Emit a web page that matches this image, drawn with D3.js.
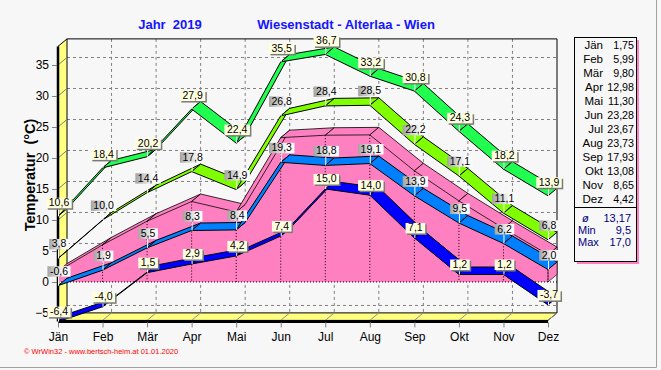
<!DOCTYPE html>
<html>
<head>
<meta charset="utf-8">
<script src="https://cdn.jsdelivr.net/npm/d3@7"></script>
<style>
  body { margin: 0; background: #f7f7f7; }
  svg { display: block; font-family: "Liberation Sans", Arial, sans-serif; }
</style>
</head>
<body>
<svg id="chart" width="661" height="370"></svg>
<script>
// --- Data ---
const months = ["Jän", "Feb", "Mär", "Apr", "Mai", "Jun", "Jul", "Aug", "Sep", "Okt", "Nov", "Dez"];
const absMax = [10.6, 18.4, 20.2, 27.9, 22.4, 35.5, 36.7, 33.2, 30.8, 24.3, 18.2, 13.9];
const avgMax = [3.8, 10.0, 14.4, 17.8, 14.9, 26.8, 28.4, 28.5, 22.2, 17.1, 11.1, 6.8];
const meanTemp = [1.75, 5.99, 9.80, 12.98, 11.30, 23.28, 23.67, 23.73, 17.93, 13.08, 8.65, 4.42];
const avgMin = [-0.6, 1.9, 5.5, 8.3, 8.4, 19.3, 18.8, 19.1, 13.9, 9.5, 6.2, 2.0];
const absMin = [-6.4, -4.0, 1.5, 2.9, 4.2, 7.4, 15.0, 14.0, 7.1, 1.2, 1.2, -3.7];
const yTicks = [-5, 0, 5, 10, 15, 20, 25, 30, 35];
const statLabels = ["ø", "Min", "Max"];
const statValues = ["13,17", "9,5", "17,0"];

// --- Layout ---
const svg = d3.select("#chart");
const x = d3.scalePoint().domain(months).range([58, 548]);
const y = d3.scaleLinear().domain([-6.2, 38]).range([320.4, 46.4]);
const DX = 9, DY = -7.5;   // 3D depth offset
const yTop = y.domain()[1], yBot = y.domain()[0];
const fmt = v => v.toFixed(1).replace(".", ",");
const pts = arr => arr.map(p => p.join(",")).join(" ");

const defs = svg.append("defs");
const grad = defs.append("linearGradient").attr("id", "grayLbl");
grad.append("stop").attr("offset", 0).attr("stop-color", "#a4a4a4");
grad.append("stop").attr("offset", 0.7).attr("stop-color", "#fbfbfb");

// panel border (right / bottom)
svg.append("path").attr("d", "M656.5,0 V367.5 H0")
    .attr("fill", "none").attr("stroke", "#a0a0a0");

// Title
svg.append("text").attr("x", 170).attr("y", 29).attr("text-anchor", "middle")
    .attr("font-size", 13).attr("font-weight", "bold").attr("fill", "#1414ff")
    .style("white-space", "pre").text("Jahr  2019");
svg.append("text").attr("x", 346).attr("y", 29).attr("text-anchor", "middle")
    .attr("font-size", 13).attr("font-weight", "bold").attr("fill", "#1414ff")
    .text("Wiesenstadt - Alterlaa - Wien");

// Y title
svg.append("text").attr("transform", "translate(35,175) rotate(-90)")
    .attr("text-anchor", "middle").attr("font-size", 14.5).attr("font-weight", "bold")
    .style("white-space", "pre").text("Temperatur  (°C)");

// --- Back wall + grid ---
const bl = x(months[0]) + DX, br = x(months[11]) + DX;
const bt = y(yTop) + DY, bb = y(yBot) + DY;

svg.append("g").selectAll("line").data(yTicks).enter().append("line")
    .attr("x1", bl).attr("x2", br)
    .attr("y1", d => y(d) + DY).attr("y2", d => y(d) + DY)
    .attr("stroke", "#808080").attr("stroke-dasharray", "3,3");
svg.append("g").selectAll("line").data(months.slice(1, 11)).enter().append("line")
    .attr("x1", d => x(d) + DX).attr("x2", d => x(d) + DX)
    .attr("y1", bt).attr("y2", bb)
    .attr("stroke", "#808080").attr("stroke-dasharray", "3,3");
svg.append("path").attr("d", `M${bl},${bt} H${br} V${bb}`)
    .attr("fill", "none").attr("stroke", "#000");

// left wall and floor
const x0 = x(months[0]), x11 = x(months[11]);
svg.append("polygon")
    .attr("points", pts([[x0, y(yTop)], [bl, bt], [bl, bb], [x0, y(yBot)]]))
    .attr("fill", "#ffff80").attr("stroke", "#000");
svg.append("polygon")
    .attr("points", pts([[x0, y(yBot)], [x11, y(yBot)], [br, bb], [bl, bb]]))
    .attr("fill", "#ffff80").attr("stroke", "#000");
// grid continuation over wall and floor
svg.append("g").selectAll("line").data(yTicks).enter().append("line")
    .attr("x1", x0).attr("x2", bl)
    .attr("y1", d => y(d)).attr("y2", d => y(d) + DY)
    .attr("stroke", "#808080");
svg.append("g").selectAll("line").data(months).enter().append("line")
    .attr("x1", d => x(d)).attr("x2", d => x(d) + DX)
    .attr("y1", y(yBot)).attr("y2", bb)
    .attr("stroke", "#909090");
svg.append("line").attr("x1", x0).attr("x2", x0).attr("y1", y(yTop)).attr("y2", y(yBot) + 1)
    .attr("stroke", "#000").attr("stroke-width", 2.5);
svg.append("line").attr("x1", x0).attr("x2", x11).attr("y1", y(yBot) + 1).attr("y2", y(yBot) + 1)
    .attr("stroke", "#000").attr("stroke-width", 3);

// Axes
const yAxis = svg.append("g").attr("transform", `translate(${x0 - 1},0)`)
    .call(d3.axisLeft(y).tickValues(yTicks).tickSize(5).tickPadding(3));
const xAxis = svg.append("g").attr("transform", `translate(0,${y(yBot) + 2})`)
    .call(d3.axisBottom(x).tickSize(5).tickPadding(5));
[yAxis, xAxis].forEach(a => {
    a.select(".domain").remove();
    a.selectAll(".tick line").attr("stroke", "#808080");
    a.selectAll(".tick text").attr("font-size", 12).attr("font-family", "Liberation Sans, Arial, sans-serif").attr("fill", "#000");
});

// --- Mean temperature: 3D pink area ---
const pink = "#ff80c0";
const meanPts = meanTemp.map((v, i) => [x(months[i]), y(v)]);
const g0 = y(0);
svg.append("polygon")
    .attr("points", pts([...meanPts, [x11, g0], [x0, g0]]))
    .attr("fill", pink);
svg.append("polygon")
    .attr("points", pts([meanPts[11], [x11 + DX, meanPts[11][1] + DY], [x11 + DX, g0 + DY], [x11, g0]]))
    .attr("fill", pink).attr("stroke", "#000").attr("stroke-width", 0.6);
svg.append("g").selectAll("line").data(meanPts).enter().append("line")
    .attr("x1", d => d[0]).attr("x2", d => d[0])
    .attr("y1", d => d[1]).attr("y2", g0)
    .attr("stroke", "#000").attr("stroke-dasharray", "1,2");
svg.append("line").attr("x1", x0).attr("x2", br).attr("y1", g0).attr("y2", g0)
    .attr("stroke", "#000").attr("stroke-dasharray", "1,2");
d3.range(11).forEach(i => {
    const a = meanPts[i], b = meanPts[i + 1];
    svg.append("polygon")
        .attr("points", pts([a, b, [b[0] + DX, b[1] + DY], [a[0] + DX, a[1] + DY]]))
        .attr("fill", pink).attr("stroke", "#000").attr("stroke-width", 0.8);
});

// --- Ribbons ---
function drawRibbon(vals, color) {
    const g = svg.append("g");
    d3.range(11).forEach(i => {
        const a = [x(months[i]), y(vals[i])], b = [x(months[i + 1]), y(vals[i + 1])];
        g.append("polygon")
            .attr("points", pts([a, b, [b[0] + DX, b[1] + DY], [a[0] + DX, a[1] + DY]]))
            .attr("fill", color).attr("stroke", "#000").attr("stroke-width", 1)
            .attr("stroke-linejoin", "round");
    });
}
drawRibbon(absMax, "#20ff50");
drawRibbon(avgMax, "#80ff00");
drawRibbon(avgMin, "#0080ff");
drawRibbon(absMin, "#0000ff");

// --- Value labels ---
function drawLabels(vals, gray, off) {
    const g = svg.append("g");
    vals.forEach((v, i) => {
        const px = x(months[i]), bottom = y(v) - off;
        const lg = g.append("g");
        lg.append("line").attr("x1", px + 0.5).attr("x2", px + 0.5)
            .attr("y1", bottom).attr("y2", y(v)).attr("stroke", "#fff");
        const t = lg.append("text").attr("x", px + 1).attr("y", bottom - 2)
            .attr("text-anchor", "middle").attr("font-size", 10.5).attr("fill", "#000")
            .text(fmt(v));
        const w = t.node().getComputedTextLength() + 5;
        if (!gray) {
            lg.insert("rect", "text").attr("x", px + 1 - w / 2 + 1.5).attr("y", bottom - 10.5 + 1.5)
                .attr("width", w).attr("height", 10.5).attr("fill", "#7a7a7a");
        }
        lg.insert("rect", "text").attr("x", px + 1 - w / 2).attr("y", bottom - 10.5)
            .attr("width", w).attr("height", 10.5)
            .attr("fill", gray ? "url(#grayLbl)" : "#ffffe0");
    });
}
drawLabels(absMax, false, 8);
drawLabels(avgMax, true, 9);
drawLabels(avgMin, true, 9);
drawLabels(absMin, false, 4.5);

// --- Legend box ---
const lgX = 574, lgY = 37, lgW = 62, lgH = 224;
svg.append("rect").attr("x", lgX + 3).attr("y", lgY + 3).attr("width", lgW).attr("height", lgH).attr("fill", pink);
svg.append("rect").attr("x", lgX + 0.5).attr("y", lgY + 0.5).attr("width", lgW).attr("height", lgH)
    .attr("fill", "#f7f7f7").attr("stroke", "#000");
svg.append("line").attr("x1", lgX).attr("x2", lgX + lgW).attr("y1", 207.5).attr("y2", 207.5).attr("stroke", "#000");
const rows = svg.append("g").attr("fill", "#000");
months.forEach((m, i) => {
    rows.append("text").attr("x", 603).attr("y", 49 + i * 14).attr("text-anchor", "end")
        .attr("font-size", 11.5).text(m);
    rows.append("text").attr("x", 634).attr("y", 49 + i * 14).attr("text-anchor", "end")
        .attr("font-size", 10.7).text(meanTemp[i].toFixed(2).replace(".", ","));
});
const stats = svg.append("g").attr("font-size", 11).attr("fill", "#000080");
statLabels.forEach((s, i) => {
    stats.append("text").attr("x", i === 0 ? 582 : 578).attr("y", 222 + i * 12)
        .attr("font-style", i === 0 ? "italic" : "normal").text(s);
    stats.append("text").attr("x", 631).attr("y", 222 + i * 12).attr("text-anchor", "end").text(statValues[i]);
});

// Footer
svg.append("text").attr("x", 24).attr("y", 354).attr("font-size", 7.5).attr("fill", "#ff0000")
    .text("© WrWin32 - www.bertsch-heim.at  01.01.2020");
</script>
</body>
</html>
